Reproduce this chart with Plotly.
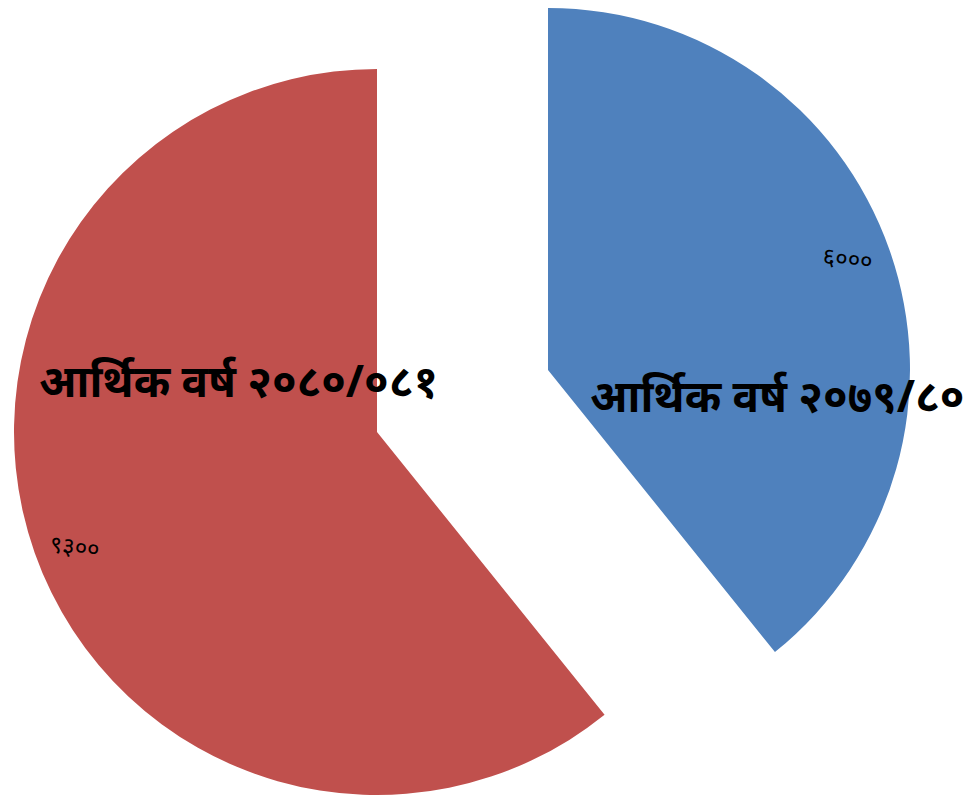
import plotly.graph_objects as go

categories = ["आर्थिक वर्ष २०७९/८०", "आर्थिक वर्ष २०८०/०८१"]
values = [6000, 9300]
value_labels = ["६०००", "९३००"]
colors = ["#4F81BD", "#C0504D"]

W, H = 973, 796
OFF = 8  # page body margin

def px_x(x):
    return (x - OFF) / W

def px_y(y):
    return 1 - (y - OFF) / H

radii = [362, 363]
centers = [(548, 370), (377, 432)]
domains = []
for (cx, cy), R in zip(centers, radii):
    domains.append(dict(x=[max(0, px_x(cx - R)), min(1, px_x(cx + R))],
                        y=[max(0, px_y(cy + R)), min(1, px_y(cy - R))]))

fig = go.Figure()
for i in range(len(values)):
    cols = ["rgba(0,0,0,0)"] * len(values)
    cols[i] = colors[i]
    fig.add_trace(go.Pie(
        labels=categories,
        values=values,
        sort=False,
        direction="clockwise",
        rotation=0,
        marker=dict(colors=cols, line=dict(width=0)),
        textinfo="none",
        hoverinfo="label+value",
        domain=domains[i],
        showlegend=False,
    ))

cat_pos = [(777, 395), (238, 380)]
val_pos = [(848, 257), (75, 545)]
for i in range(len(values)):
    fig.add_annotation(x=px_x(cat_pos[i][0]), y=px_y(cat_pos[i][1]), xref="paper", yref="paper",
                       xanchor="center", yanchor="middle",
                       text="<b>" + categories[i] + "</b>", showarrow=False,
                       font=dict(size=44, color="black", family="Noto Sans, sans-serif"))
    fig.add_annotation(x=px_x(val_pos[i][0]), y=px_y(val_pos[i][1]), xref="paper", yref="paper",
                       xanchor="center", yanchor="middle",
                       text=value_labels[i], showarrow=False, textangle=6,
                       font=dict(size=24, color="black", family="Noto Sans, sans-serif"))

fig.update_layout(
    width=W, height=H,
    margin=dict(l=0, r=0, t=0, b=0),
    paper_bgcolor="white",
    plot_bgcolor="white",
)
fig.write_html("out.html")
